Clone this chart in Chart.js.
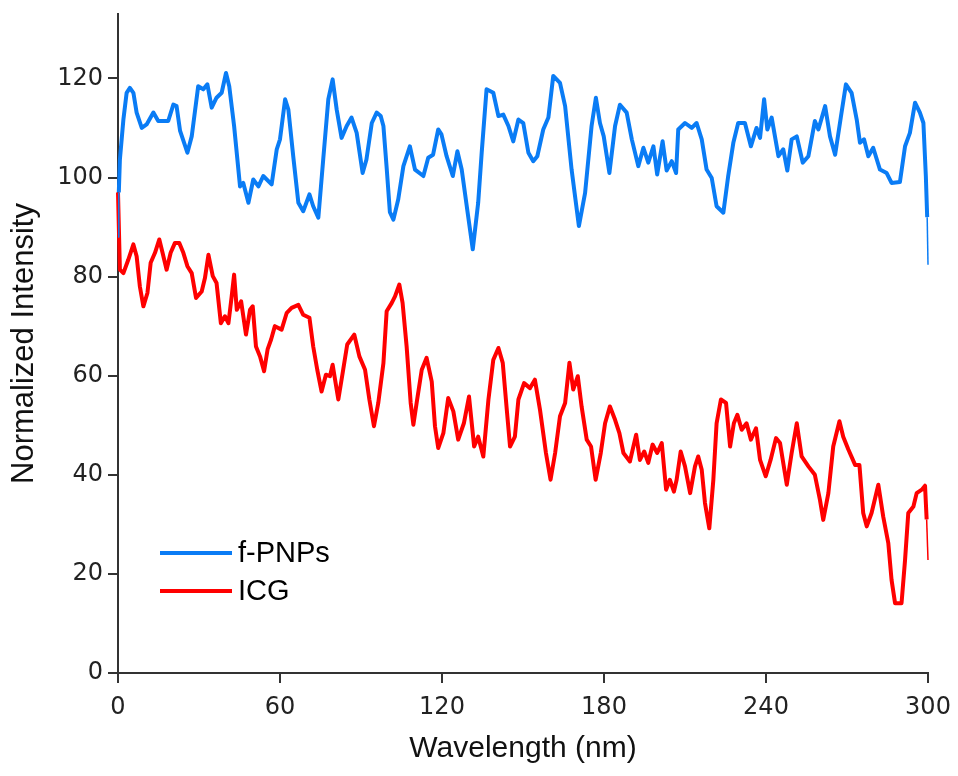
<!DOCTYPE html>
<html><head><meta charset="utf-8">
<script src="https://cdn.jsdelivr.net/npm/chart.js@4.4.1/dist/chart.umd.min.js"></script>
<style>html,body{margin:0;padding:0;background:#fff}#wrap{width:958px;height:776px;position:relative}</style>
</head><body><div id="wrap"><canvas id="c"></canvas></div>
<script>
// ---- data ----
const seriesNames = ['f-PNPs', 'ICG'];
const xTicks = [0, 60, 120, 180, 240, 300];
const yTicks = [0, 20, 40, 60, 80, 100, 120];

const fpnpsX = [0,0.3,0.7,2,3.2,4.4,5.7,6.9,8.8,10.6,13.1,14.9,18.6,20.5,21.7,23,25.7,27.3,29.7,31.6,33.1,34.7,36.5,38.4,40,41.2,43,45.2,46.4,48.3,50.1,52,53.8,56.9,58.8,60,61.9,63.1,64.9,66.8,68.6,70.9,72.3,74.2,76,77.9,79.5,81,82.8,84.7,86.5,88.4,90.6,92,94,95.8,97.3,98.3,99.5,100.7,102,103.8,105.7,108.1,110,113.1,114.9,116.7,118.6,119.8,121.7,124,125.7,127.3,129.4,131.4,133.4,134.7,136.5,139,140.9,142.7,144.6,146.4,148.3,150.1,152,153.8,155.3,157.5,159.4,161.2,163.7,165.6,168,170.7,173,175.4,177,178.5,179.9,182,184.1,185.9,188.4,190.3,192.7,194.6,196.4,198.3,199.7,201.7,203.2,205.1,206.7,207.5,210,212.5,214.3,216.2,218,219.9,221.7,224.2,226,227.9,229.7,232.2,234.4,236.5,237.8,239.3,240.5,242.1,244.6,246.4,247.9,249.5,251.4,253.6,255.7,258.1,259.4,261.9,263.7,265.6,267.7,269.6,271.7,273.6,274.8,276.3,277.9,279.7,282.2,284.7,286.5,289.6,291.5,293.3,295.2,297,298.3,299.2,299.7,300];
const fpnpsY = [88,97,103.6,111.7,117.1,118.1,117.1,113.1,110,110.7,113.1,111.4,111.4,114.7,114.4,109.4,105,108.3,118.4,117.8,118.8,114.1,116.1,117.1,121.1,118.4,110.4,98.2,98.9,94.9,99.6,98.2,100.3,98.6,105.7,107.7,115.8,113.7,104.3,94.9,93.2,96.6,94.2,91.9,103.6,115.8,119.8,113.7,108,110.4,112.1,109,100.9,103.6,111,113.1,112.4,110.4,102,93,91.5,95.6,102.3,106.3,101.6,100.3,104,104.6,109.7,108.7,104.3,100.3,105.3,101.6,93.3,85.5,94.9,105,117.8,117.1,112.4,112.7,110.4,107.3,111.7,111,105,103.3,104.3,109.7,112.1,120.5,119.1,114.4,101.6,90.2,96.9,110.4,116.1,111,108.3,100.9,110.4,114.7,113.1,107.7,102.3,106,103,106.3,100.6,107.3,101.4,103.3,100.9,109.7,111,110,111,107.7,101.6,99.9,94.2,92.9,100.3,107,111,111,106.3,110,108,115.8,109.7,112.1,104.3,105.7,101.4,107.7,108.3,103,104.3,111.4,109.7,114.4,108.3,104.6,112.1,118.8,117.1,111.7,107,107.7,104.3,106,101.6,100.9,98.9,99.1,106.3,109,115.1,113.1,111,100.3,92,82.4];

const icgX = [0,0.7,2,3.8,5.7,6.9,8.1,9.4,10.9,12.1,13.7,15.3,16.5,18,19.5,21.1,22.7,24.2,25.7,27.3,28.9,31,32.2,33.5,35.1,36.5,38.1,39.6,40.9,42.1,43,44,45.6,47.4,48.9,49.9,51.1,52.6,54.1,55.4,56.7,58.1,60.6,62.5,64.3,66.8,68.6,70.9,72.3,73.8,75.4,77,78.5,79.5,81.6,83.4,84.9,87.5,89.4,91.5,93.1,94.8,96.4,98.3,99.5,101.4,102.6,104.2,105.4,106.9,108.4,109.4,110.6,112.5,114.3,116.2,117.4,118.6,120.5,122.3,124.2,126,128.1,130,131.9,133.4,135.3,137.2,139,140.9,142.5,144,145.2,147,148.3,150.4,152.6,154.4,156.3,158.5,160.2,161.9,163.7,165.6,167.2,168.6,170.3,171.7,173.6,175.2,176.9,178.8,180.4,182.2,184.1,185.7,187.2,189.6,191.9,193.3,194.9,196.4,198,199.7,201.4,203,204.4,205.9,206.9,208.4,210,211.9,213.7,214.9,216.2,217.4,219,220.5,221.7,223.3,225.2,226.7,228.1,229.4,231,232.8,234.4,236.3,237.8,239.9,241.7,243.7,245.2,247.7,249.5,251.4,253.2,255.7,258.1,260,261.2,263.1,264.9,267.2,268.6,270.5,273,274.6,276,277.3,279.1,281.6,283.4,285.3,286.5,287.8,290.2,291.5,292.7,294.6,295.8,297.7,298.9,299.5,300];
const icgY = [97,81.4,80.7,83.4,86.5,84.1,78,74,76.7,82.8,84.8,87.5,84.8,81.4,84.8,86.8,86.8,84.8,82.1,80.7,75.7,77,79.7,84.4,80.1,78.7,70.6,72,70.6,76,80.4,73.3,75,68.3,73.3,74,65.9,63.9,60.9,65.3,67.3,70,69.3,72.7,73.7,74.3,72.3,71.7,65.9,61.2,56.8,60.2,59.9,62.2,55.2,61.2,66.3,68.3,63.9,61.2,55.2,49.8,54.5,62.5,73,74.7,76,78.4,74.7,65.9,54.5,50.1,54.5,61.2,63.6,58.8,49.8,45.4,48.4,55.5,52.8,47.1,50.4,55.8,45.7,47.7,43.7,55.2,63.2,65.6,62.6,53.1,45.7,47.7,55.2,58.5,57.5,59.2,53.1,44.4,39,44.4,51.8,54.5,62.6,57.2,59.9,53.8,47.1,45.7,39,44.4,50.4,53.8,51.1,48.4,44.4,42.7,48.1,43,44.7,42.4,46.1,44.4,46.4,37,39,36.6,39,44.7,41.7,36.3,41.7,43.7,41,34.3,29.2,39,50.4,55.2,54.5,45.7,50.4,52.1,49.1,50.4,47.1,49.4,43,39.7,43,47.4,46.4,38,44.4,50.4,43.7,41.7,40,34.9,30.9,36.3,45.7,50.8,47.7,45.1,42,42,32.3,29.6,32.3,38,31.6,26.2,18.8,14.1,14.1,22.8,32.3,33.6,36.3,37,37.8,31,22.8];

// ---- chart ----
const toPoints = (xs, ys) => xs.map((x, i) => ({x: x, y: ys[i]}));
const W = 958, H = 776;
const AREA = {left: 118, right: 928, top: 14, bottom: 673};

const legendPlugin = {
  id: 'insideLegend',
  afterDraw(chart) {
    const ctx = chart.ctx;
    ctx.save();
    chart.data.datasets.forEach((ds, i) => {
      const y = 553 + i * 38;
      ctx.strokeStyle = ds.borderColor;
      ctx.lineWidth = 4;
      ctx.beginPath(); ctx.moveTo(160, y); ctx.lineTo(232, y); ctx.stroke();
      ctx.fillStyle = '#000';
      ctx.font = '29px "Liberation Sans", Arial, sans-serif';
      ctx.textBaseline = 'middle';
      ctx.textAlign = 'left';
      ctx.fillText(ds.label, 238, y + 1);
    });
    ctx.restore();
  }
};

function thinEnds(nPts, thinFirst) {
  return ctx => {
    if (ctx.p1DataIndex === nPts - 1) return 1.5;
    if (thinFirst && ctx.p0DataIndex === 0) return 1.5;
    return 4;
  };
}

new Chart(document.getElementById('c'), {
  type: 'line',
  data: {
    datasets: [
      {label: seriesNames[0], data: toPoints(fpnpsX, fpnpsY), borderColor: '#0a7cf5', borderWidth: 4,
       pointRadius: 0, tension: 0, clip: false, borderJoinStyle: 'round',
       segment: {borderWidth: thinEnds(fpnpsX.length, true)}},
      {label: seriesNames[1], data: toPoints(icgX, icgY), borderColor: '#ff0000', borderWidth: 4,
       pointRadius: 0, tension: 0, clip: false, borderJoinStyle: 'round',
       segment: {borderWidth: thinEnds(icgX.length, false)}}
    ]
  },
  options: {
    responsive: true, maintainAspectRatio: false, animation: false,
    events: [],
    layout: {padding: {top: AREA.top, right: W - AREA.right, left: 0, bottom: 0}},
    plugins: {legend: {display: false}, tooltip: {enabled: false}},
    scales: {
      x: {
        type: 'linear', min: 0, max: 300,
        afterBuildTicks: s => { s.ticks = xTicks.map(v => ({value: v})); },
        afterFit: s => { s.height = H - AREA.bottom; s.paddingLeft = 0; s.paddingRight = 0; },
        grid: {display: true, drawOnChartArea: false, drawTicks: true, tickLength: 10, color: '#333', lineWidth: 2},
        border: {display: true, color: '#333', width: 2},
        ticks: {font: {family: '"DejaVu Sans", Verdana, sans-serif', size: 24}, color: '#222', padding: 10, maxRotation: 0},
        title: {display: true, text: 'Wavelength (nm)', color: '#111',
                font: {family: '"Liberation Sans", Arial, sans-serif', size: 30}, padding: {top: 9, bottom: 9}}
      },
      y: {
        type: 'linear', min: 0, max: 133,
        afterBuildTicks: s => { s.ticks = yTicks.map(v => ({value: v})); },
        afterFit: s => { s.width = AREA.left; s.paddingTop = 0; s.paddingBottom = 0; },
        grid: {display: true, drawOnChartArea: false, drawTicks: true, tickLength: 10, color: '#333', lineWidth: 2},
        border: {display: true, color: '#333', width: 2},
        ticks: {font: {family: '"DejaVu Sans", Verdana, sans-serif', size: 24}, color: '#222', padding: 5},
        title: {display: true, text: 'Normalized Intensity', color: '#111',
                font: {family: '"Liberation Sans", Arial, sans-serif', size: 31}, padding: {top: 6, bottom: 6}}
      }
    }
  },
  plugins: [legendPlugin]
});
</script>
</body></html>
